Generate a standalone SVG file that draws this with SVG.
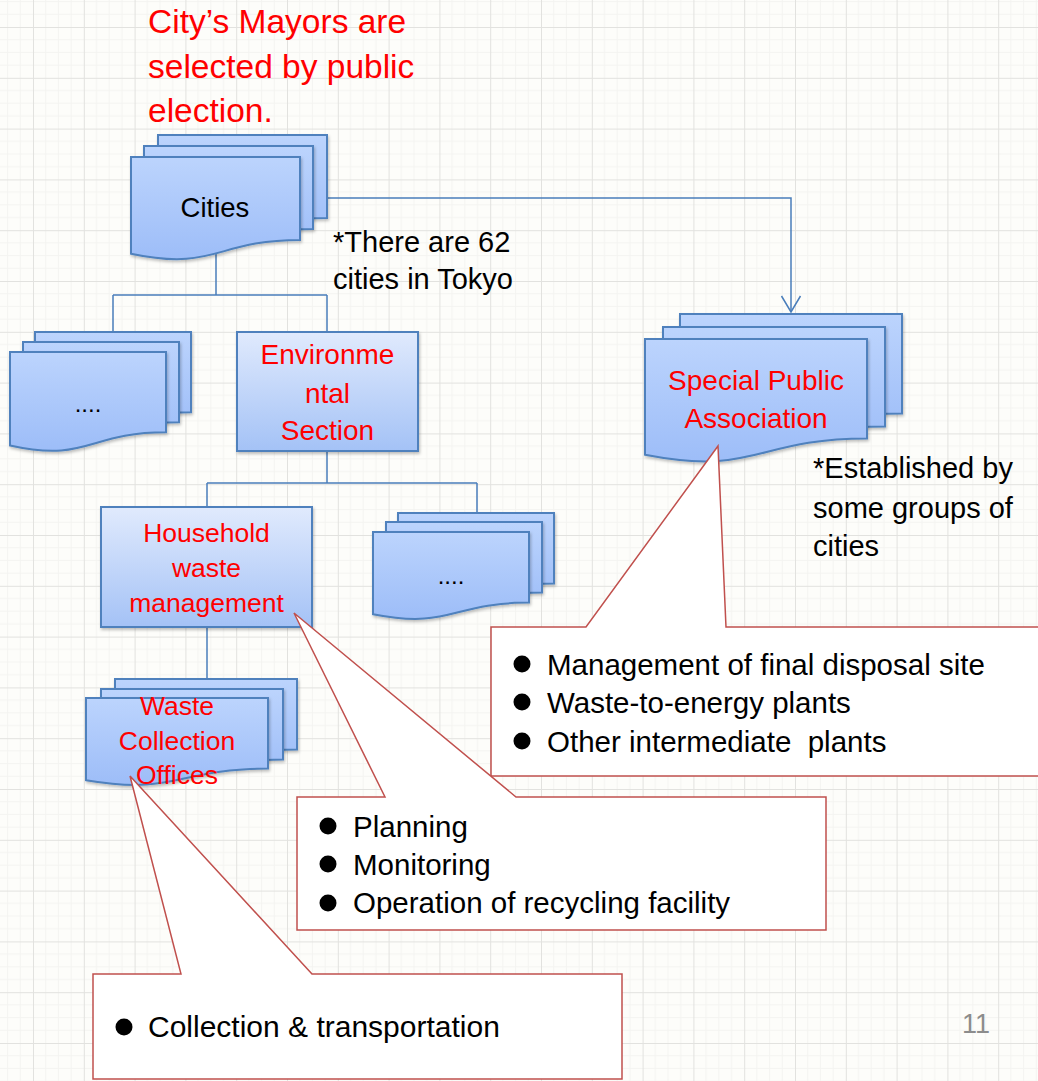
<svg xmlns="http://www.w3.org/2000/svg" width="1038" height="1081" viewBox="0 0 1038 1081">
<defs>
  <pattern id="grid" patternUnits="userSpaceOnUse" x="33" y="27" width="50.8" height="50.8">
    <path d="M0,12.7 H50.8 M0,25.4 H50.8 M0,38.1 H50.8 M12.7,0 V50.8 M25.4,0 V50.8 M38.1,0 V50.8" stroke="#f4f4f1" stroke-width="1" fill="none"/>
    <path d="M0,0 H50.8 M0,0 V50.8" stroke="#e2e2df" stroke-width="2" fill="none"/>
  </pattern>
  <linearGradient id="docG" x1="0" y1="0" x2="0" y2="1">
    <stop offset="0" stop-color="#bcd4fd"/>
    <stop offset="1" stop-color="#9dbdf8"/>
  </linearGradient>
  <linearGradient id="boxG" x1="0" y1="0" x2="0" y2="1">
    <stop offset="0" stop-color="#e0eafd"/>
    <stop offset="1" stop-color="#a4c2f6"/>
  </linearGradient>
  <filter id="sh" x="-10%" y="-10%" width="130%" height="140%">
    <feDropShadow dx="1" dy="2" stdDeviation="1.5" flood-color="#000" flood-opacity="0.25"/>
  </filter>
  <marker id="arr" markerUnits="userSpaceOnUse" refX="0" refY="0" orient="auto" overflow="visible" markerWidth="20" markerHeight="20">
    <path d="M-16,-9.5 L0,0 L-16,9.5" fill="none" stroke="#4a7ebb" stroke-width="1.5"/>
  </marker>
  <style>
    .doc { fill: url(#docG); stroke: #4f81bd; stroke-width: 2; filter: url(#sh); }
    .box { fill: url(#boxG); stroke: #4f81bd; stroke-width: 2; filter: url(#sh); }
    .conn { fill: none; stroke: #4a7ebb; stroke-width: 1.5; }
    .call { fill: #ffffff; stroke: #c0504d; stroke-width: 1.5; }
    .t { font-family: "Liberation Sans", Arial, sans-serif; fill: #000000; }
    .red { font-family: "Liberation Sans", Arial, sans-serif; fill: #ff0000; }
    .bul { fill: #000000; }
  </style>
</defs>

<rect x="0" y="0" width="1038" height="1081" fill="#fdfdfa"/>
<rect x="0" y="0" width="1038" height="1081" fill="url(#grid)"/>

<g id="title">
  <text class="red" font-size="33.5" x="148" y="33">City’s Mayors are</text>
  <text class="red" font-size="33.5" x="148" y="78">selected by public</text>
  <text class="red" font-size="33.5" x="148" y="122">election.</text>
</g>

<g id="connectors">
  <path class="conn" d="M216,254 V295 M113,295 H327 M113,295 V332 M327,295 V332"/>
  <path class="conn" d="M327,451 V483 M207,483 H477 M207,483 V507 M477,483 V513"/>
  <path class="conn" d="M207,627 V679"/>
  <path class="conn" d="M327,198 H791 V312" marker-end="url(#arr)"/>
</g>

<g id="cities">
  <path class="doc" d="M158,135 H327 V218 C242.5,218 242.5,249.6 158,231.7 Z"/>
  <path class="doc" d="M144,146 H313 V229 C228.5,229 228.5,260.6 144,242.7 Z"/>
  <path class="doc" d="M131,157 H300 V240 C215.5,240 215.5,271.6 131,253.7 Z"/>
  <text class="t" font-size="27.5" x="215" y="217" text-anchor="middle">Cities</text>
</g>

<g id="note-cities">
  <text class="t" font-size="29" x="333" y="252">*There are 62</text>
  <text class="t" font-size="29" x="333" y="289">cities in Tokyo</text>
</g>

<g id="other-sections">
  <path class="doc" d="M35,332 H191 V412.2 C113,412.2 113,442.75 35,425.4 Z"/>
  <path class="doc" d="M23,342 H179 V422.2 C101,422.2 101,452.75 23,435.4 Z"/>
  <path class="doc" d="M10,352 H166 V432.2 C88,432.2 88,462.75 10,445.4 Z"/>
  <text class="t" font-size="24" x="88" y="412" text-anchor="middle">....</text>
</g>

<g id="environmental-section">
  <rect class="box" x="237" y="332" width="181" height="119"/>
  <text class="red" font-size="28" x="327.5" y="364" text-anchor="middle">Environme</text>
  <text class="red" font-size="28" x="327.5" y="403" text-anchor="middle">ntal</text>
  <text class="red" font-size="28" x="327.5" y="440" text-anchor="middle">Section</text>
</g>

<g id="special-public-association">
  <path class="doc" d="M680,314 H902 V413.4 C791,413.4 791,451.3 680,429.8 Z"/>
  <path class="doc" d="M663,327 H885 V426.4 C774,426.4 774,464.3 663,442.8 Z"/>
  <path class="doc" d="M645,339 H867 V438.4 C756,438.4 756,476.3 645,454.8 Z"/>
  <text class="red" font-size="28" x="756" y="390" text-anchor="middle">Special Public</text>
  <text class="red" font-size="28" x="756" y="428" text-anchor="middle">Association</text>
</g>

<g id="note-spa">
  <text class="t" font-size="29" x="813" y="478">*Established by</text>
  <text class="t" font-size="29" x="813" y="518">some groups of</text>
  <text class="t" font-size="29" x="813" y="556">cities</text>
</g>

<g id="household-waste-management">
  <rect class="box" x="101" y="507" width="211" height="120"/>
  <text class="red" font-size="26.5" x="206.5" y="542" text-anchor="middle">Household</text>
  <text class="red" font-size="26.5" x="206.5" y="577" text-anchor="middle">waste</text>
  <text class="red" font-size="26.5" x="206.5" y="612" text-anchor="middle">management</text>
</g>

<g id="other-units">
  <path class="doc" d="M398,513 H554 V583.6 C476,583.6 476,610.5 398,595.2 Z"/>
  <path class="doc" d="M386,522 H542 V592.6 C464,592.6 464,619.5 386,604.2 Z"/>
  <path class="doc" d="M373,532 H529 V602.6 C451,602.6 451,629.5 373,614.2 Z"/>
  <text class="t" font-size="24" x="451" y="584" text-anchor="middle">....</text>
</g>

<g id="waste-collection-offices">
  <path class="doc" d="M115,679 H297 V749.6 C206,749.6 206,776.5 115,761.2 Z"/>
  <path class="doc" d="M101,689 H283 V759.6 C192,759.6 192,786.5 101,771.2 Z"/>
  <path class="doc" d="M86,698 H268 V768.6 C177,768.6 177,795.5 86,780.2 Z"/>
</g>

<g id="callout-spa">
  <path class="call" d="M491,627 H586 L718,446 L726,627 H1046 V776 H491 Z"/>
  <circle class="bul" cx="522" cy="664" r="8.5"/>
  <circle class="bul" cx="522" cy="702" r="8.5"/>
  <circle class="bul" cx="522" cy="741" r="8.5"/>
  <text class="t" font-size="29.5" x="547" y="675">Management of final disposal site</text>
  <text class="t" font-size="29.5" x="547" y="713">Waste-to-energy plants</text>
  <text class="t" font-size="29.5" x="547" y="752" xml:space="preserve">Other intermediate  plants</text>
</g>

<g id="callout-household">
  <path class="call" d="M297,797 H385 L294,613 L516,797 H826 V930 H297 Z"/>
  <circle class="bul" cx="328" cy="826" r="8.5"/>
  <circle class="bul" cx="328" cy="864" r="8.5"/>
  <circle class="bul" cx="328" cy="903" r="8.5"/>
  <text class="t" font-size="29.5" x="353" y="837">Planning</text>
  <text class="t" font-size="29.5" x="353" y="875">Monitoring</text>
  <text class="t" font-size="29.5" x="353" y="913">Operation of recycling facility</text>
</g>

<g id="callout-collection">
  <path class="call" d="M93,974 H181 L130,776 L312,974 H622 V1079 H93 Z"/>
  <circle class="bul" cx="124" cy="1027" r="8.5"/>
  <text class="t" font-size="30" x="148" y="1037">Collection &amp; transportation</text>
</g>

<g id="waste-collection-label">
  <text class="red" font-size="26.5" x="177" y="715" text-anchor="middle">Waste</text>
  <text class="red" font-size="26.5" x="177" y="750" text-anchor="middle">Collection</text>
  <text class="red" font-size="26.5" x="177" y="784" text-anchor="middle">Offices</text>
</g>

<g id="page-number">
  <text font-family="Liberation Sans, Arial, sans-serif" font-size="27" fill="#8c8c8c" x="962" y="1033">11</text>
</g>
</svg>
